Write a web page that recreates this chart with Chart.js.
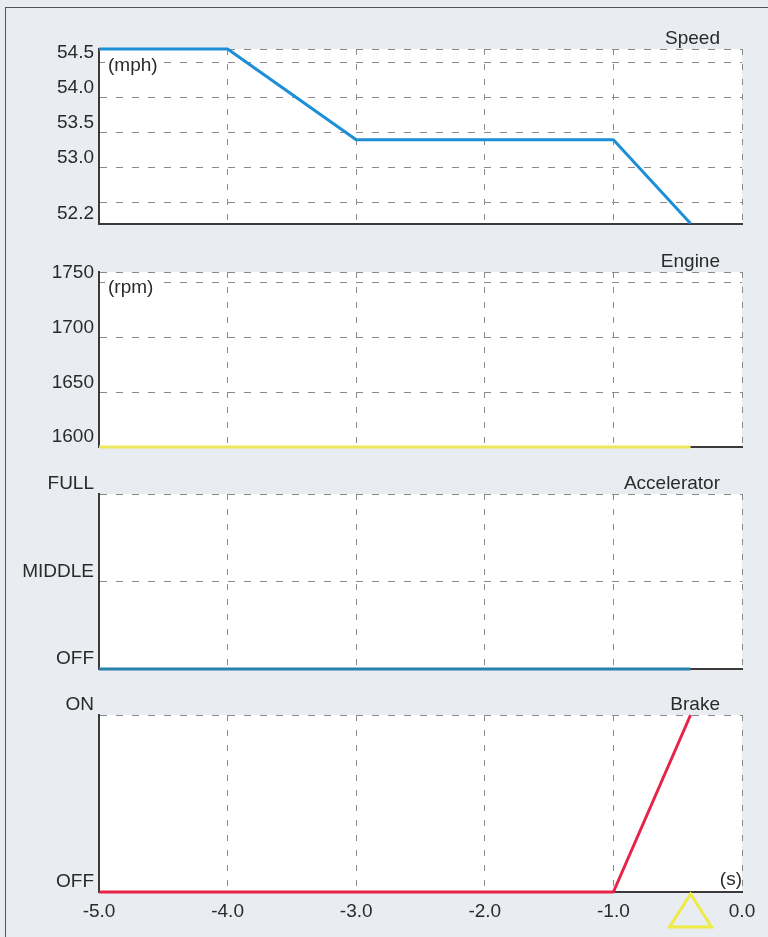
<!DOCTYPE html>
<html><head><meta charset="utf-8">
<script src="https://cdn.jsdelivr.net/npm/chart.js@4.4.1/dist/chart.umd.min.js"></script>
<style>
html,body{margin:0;padding:0;background:#e9ecf1;}
#page{position:relative;width:768px;height:937px;overflow:hidden;background:#e9ecf1;}
#frame{position:absolute;left:5px;top:7px;width:800px;height:1000px;border-left:1.5px solid #555;border-top:1.5px solid #555;}
canvas{position:absolute;left:0;}
</style></head><body>
<div id="page"><div id="frame"></div>
<canvas id="c1" width="768" height="240" style="top:0px"></canvas>
<canvas id="c2" width="768" height="230" style="top:240px"></canvas>
<canvas id="c3" width="768" height="220" style="top:470px"></canvas>
<canvas id="c4" width="768" height="247" style="top:690px"></canvas>
</div>
<script>
// ---- data ----
const timeTicks = [-5, -4, -3, -2, -1, 0];
const panelTitles = ['Speed', 'Engine', 'Accelerator', 'Brake'];
const unitLabels = ['(mph)', '(rpm)'];
const timeUnit = '(s)';

const speedTime = [-5, -4, -3, -1, -0.4];
const speedMph = [54.7, 54.7, 53.4, 53.4, 52.2];
const speedTicks = [52.2, 52.5, 53.0, 53.5, 54.0, 54.5, 54.7];
const speedTickLabels = ['52.2', '', '53.0', '53.5', '54.0', '54.5', ''];

const engineTime = [-5, -0.4];
const engineRpm = [1600, 1600];
const engineTicks = [1600, 1650, 1700, 1750, 1760];
const engineTickLabels = ['1600', '1650', '1700', '1750', ''];

const accelTime = [-5, -0.4];
const accelLevel = [0, 0];
const accelTicks = [0, 1, 2];
const accelTickLabels = ['OFF', 'MIDDLE', 'FULL'];

const brakeTime = [-5, -1, -0.4];
const brakeLevel = [0, 0, 1];
const brakeTicks = [0, 1];
const brakeTickLabels = ['OFF', 'ON'];

const eventTime = -0.4;

// ---- drawing ----
const FONT = '"Liberation Sans", Arial, sans-serif';
const TXT = '#2a2a2a';

const decor = {
  id: 'decor',
  beforeDraw(chart, args, o) {
    const {ctx, chartArea: a} = chart;
    ctx.save();
    ctx.fillStyle = '#ffffff';
    ctx.fillRect(a.left, a.top, a.right - a.left, a.bottom - a.top);
    ctx.restore();
  },
  beforeDatasetsDraw(chart, args, o) {
    if (!o.unit) return;
    const {ctx, chartArea: a} = chart;
    ctx.save();
    ctx.font = '19px ' + FONT;
    const w = ctx.measureText(o.unit).width;
    ctx.fillStyle = '#ffffff';
    ctx.fillRect(a.left + 6, a.top + o.unitDy - 10, w + 6, 20);
    ctx.fillStyle = TXT;
    ctx.textAlign = 'left';
    ctx.textBaseline = 'middle';
    ctx.fillText(o.unit, a.left + 9, a.top + o.unitDy);
    ctx.restore();
  },
  afterDraw(chart, args, o) {
    const {ctx, chartArea: a} = chart;
    ctx.save();
    ctx.font = '19px ' + FONT;
    ctx.fillStyle = TXT;
    ctx.textAlign = 'right';
    ctx.textBaseline = 'middle';
    ctx.fillText(o.title, a.right - 22, a.top - 10.5);
    if (o.timeUnit) {
      ctx.fillText(o.timeUnit, a.right, a.bottom - 12);
    }
    if (o.marker !== undefined) {
      const px = chart.scales.x.getPixelForValue(o.marker);
      ctx.strokeStyle = '#eeeb44';
      ctx.lineWidth = 3;
      ctx.lineJoin = 'miter';
      ctx.beginPath();
      ctx.moveTo(px, a.bottom + 2);
      ctx.lineTo(px + 21, a.bottom + 35);
      ctx.lineTo(px - 21, a.bottom + 35);
      ctx.closePath();
      ctx.stroke();
    }
    ctx.restore();
  }
};

function makePanel(id, spec) {
  const data = spec.xs.map((x, i) => ({x: x, y: spec.ys[i]}));
  new Chart(document.getElementById(id), {
    type: 'line',
    data: {datasets: [{
      data: data, borderColor: spec.color, borderWidth: 3, pointRadius: 0,
      tension: 0, fill: false, clip: false, borderJoinStyle: 'round', borderCapStyle: 'butt'
    }]},
    options: {
      responsive: false, animation: false, devicePixelRatio: 1,
      layout: {padding: {top: spec.padTop, bottom: spec.padBottom, left: 0, right: 26}},
      plugins: {legend: {display: false}, tooltip: {enabled: false}, title: {display: false},
        decor: {title: spec.title, unit: spec.unit, unitDy: spec.unitDy, timeUnit: spec.timeUnit, marker: spec.marker}},
      scales: {
        x: {
          type: 'linear', min: -5, max: 0, position: 'bottom',
          afterBuildTicks: s => { s.ticks = timeTicks.map(v => ({value: v})); },
          afterFit: s => { s.height = spec.xHeight; },
          grid: {color: '#8a8a8a', lineWidth: 1, drawTicks: false},
          border: {display: true, color: '#3a3a3a', width: 2, dash: [6, 9]},
          ticks: {display: spec.showX, padding: 8, color: TXT, font: {family: FONT, size: 19},
            callback: v => Number(v).toFixed(1)}
        },
        y: {
          type: 'linear', min: spec.min, max: spec.max, position: 'left',
          afterBuildTicks: s => { s.ticks = spec.ticks.map(v => ({value: v})); },
          afterFit: s => { s.width = 99; },
          grid: {color: '#8a8a8a', lineWidth: 1, drawTicks: false},
          border: {display: true, color: '#3a3a3a', width: 2, dash: [7, 9]},
          ticks: {autoSkip: false, padding: 5, labelOffset: -10, color: TXT,
            font: {family: FONT, size: 19},
            callback: (v, i) => spec.labels[i]}
        }
      }
    },
    plugins: [decor]
  });
}

makePanel('c1', {xs: speedTime, ys: speedMph, color: '#1c8fd6', min: 52.2, max: 54.7,
  ticks: speedTicks, labels: speedTickLabels, title: panelTitles[0], unit: unitLabels[0], unitDy: 17,
  padTop: 49, padBottom: 14, xHeight: 0, showX: false});
makePanel('c2', {xs: engineTime, ys: engineRpm, color: '#ece85a', min: 1600, max: 1760,
  ticks: engineTicks, labels: engineTickLabels, title: panelTitles[1], unit: unitLabels[1], unitDy: 16,
  padTop: 32, padBottom: 23, xHeight: 0, showX: false});
makePanel('c3', {xs: accelTime, ys: accelLevel, color: '#2a80ad', min: 0, max: 2,
  ticks: accelTicks, labels: accelTickLabels, title: panelTitles[2],
  padTop: 24, padBottom: 21, xHeight: 0, showX: false});
makePanel('c4', {xs: brakeTime, ys: brakeLevel, color: '#e8234a', min: 0, max: 1,
  ticks: brakeTicks, labels: brakeTickLabels, title: panelTitles[3], timeUnit: timeUnit, marker: eventTime,
  padTop: 25, padBottom: 0, xHeight: 45, showX: true});
</script>
</body></html>
